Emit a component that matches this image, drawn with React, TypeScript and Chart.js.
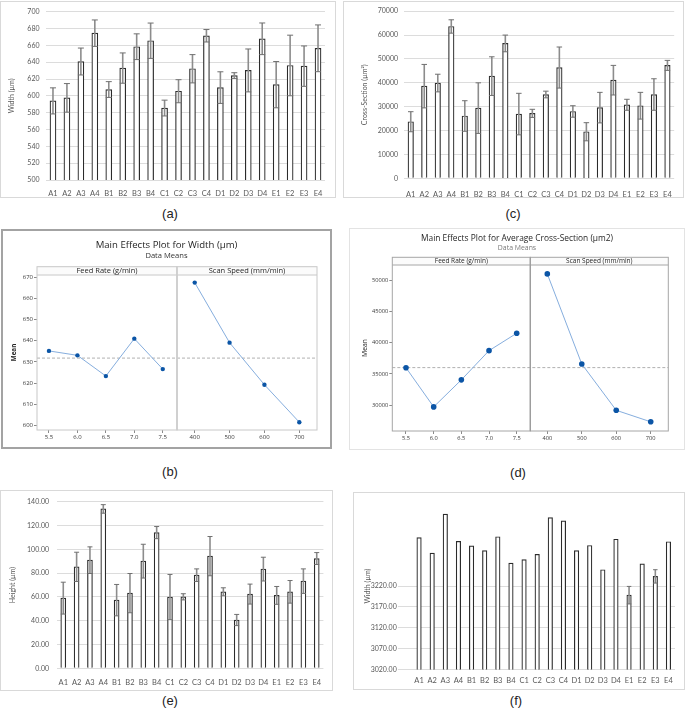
import React, { useEffect, useRef } from 'react';
import { Chart, registerables } from 'chart.js';

Chart.register(...registerables);

// ---------- data ----------
const categories = ['A1', 'A2', 'A3', 'A4', 'B1', 'B2', 'B3', 'B4', 'C1', 'C2', 'C3', 'C4', 'D1', 'D2', 'D3', 'D4', 'E1', 'E2', 'E3', 'E4'];

// (a) bead width (µm)
const widthMean = [594, 597.6, 640.8, 674.5, 607.5, 633, 658.4, 665.5, 585.5, 605.5, 632.2, 671.4, 609.8, 624, 630.2, 667.8, 613.3, 636.1, 635.3, 656.5];
const widthErr = [15.5, 17, 16, 15.7, 9.4, 18, 15.3, 21, 9.4, 13.7, 16.8, 7.4, 18.8, 3.5, 25.5, 18.8, 27.5, 36, 24, 27.8];

// (c) cross-section (µm²)
const crossMean = [23700, 38600, 39900, 63600, 26100, 29400, 42800, 56500, 26900, 27200, 35100, 46400, 28000, 19500, 29600, 41100, 30800, 30400, 35100, 47300];
const crossErr = [4200, 9100, 3700, 2800, 6400, 10600, 8100, 3500, 8700, 1700, 1400, 8600, 2400, 3800, 6400, 6200, 2300, 5600, 6600, 2100];

// (e) height (µm)
const heightMean = [59.0, 85.3, 90.9, 134.0, 57.3, 63.2, 90.1, 114.1, 59.9, 60.1, 78.3, 94.3, 64.3, 40.6, 62.4, 83.4, 61.3, 64.3, 73.3, 92.3];
const heightErr = [13.4, 12.3, 11.2, 3.6, 13.2, 16.5, 14.2, 5.1, 19.0, 2.6, 5.3, 16.5, 3.4, 4.7, 8.4, 10.0, 7.5, 9.5, 10.3, 5.0];

// (f) width (µm)
const trackWidthMean = [3336, 3299, 3392, 3327, 3316, 3305, 3338, 3275, 3283, 3296, 3384, 3376, 3305, 3317, 3259, 3332, 3198, 3273, 3243, 3326];
const trackWidthErr = [0, 0, 0, 0, 0, 0, 0, 0, 0, 0, 0, 0, 0, 0, 0, 0, 21, 0, 16, 0];

// main effects
const feedRates = [5.5, 6.0, 6.5, 7.0, 7.5];
const scanSpeeds = [400, 500, 600, 700];
const widthByFeed = [635.2, 633.1, 623.3, 641.0, 626.6];
const widthBySpeed = [667.5, 639.1, 619.2, 601.5];
const widthGrandMean = 631.8;
const widthMeanTicks = [600, 610, 620, 630, 640, 650, 660, 670];
const crossByFeed = [36000, 29700, 34050, 38750, 41550];
const crossBySpeed = [51100, 36600, 29150, 27300];
const crossGrandMean = 36020;
const crossMeanTicks = [30000, 35000, 40000, 45000, 50000];

// ---------- styling helpers ----------
const EXCEL_FONT = 'Lato, "Liberation Sans", sans-serif';
const MINI_FONT = '"Open Sans", "Noto Sans", sans-serif';

type Box = { left: number; top: number; width: number; height: number };

const frameBg = (color: string, lw = 1) => ({
  id: 'frameBg',
  beforeDraw(chart: any) {
    const { ctx, width, height } = chart;
    ctx.save();
    ctx.fillStyle = '#ffffff';
    ctx.fillRect(0, 0, width, height);
    ctx.strokeStyle = color;
    ctx.lineWidth = lw;
    ctx.strokeRect(lw / 2, lw / 2, width - lw, height - lw);
    ctx.restore();
  },
});

const errorBars = (errors: number[]) => ({
  id: 'errorBars',
  afterDatasetsDraw(chart: any) {
    const meta = chart.getDatasetMeta(0);
    const values = chart.data.datasets[0].data as number[];
    const y = chart.scales.y;
    const ctx = chart.ctx;
    ctx.save();
    meta.data.forEach((bar: any, i: number) => {
      const e = errors[i];
      if (!e) return;
      const v = values[i];
      const x = bar.x;
      const hi = y.getPixelForValue(v + e);
      const lo = y.getPixelForValue(v - e);
      const half = bar.width / 2;
      ctx.strokeStyle = '#8c8c8c';
      ctx.lineWidth = 1.6;
      ctx.beginPath();
      ctx.moveTo(x, hi);
      ctx.lineTo(x, lo);
      ctx.stroke();
      ctx.lineWidth = 1;
      ctx.strokeStyle = '#707070';
      ctx.beginPath();
      ctx.moveTo(x - half, hi);
      ctx.lineTo(x + half, hi);
      ctx.moveTo(x - half, lo);
      ctx.lineTo(x + half, lo);
      ctx.stroke();
    });
    ctx.restore();
  },
});

type BarSpec = {
  values: number[];
  errors: number[];
  yTitle: string;
  min: number;
  max: number;
  step: number;
  decimals: number;
  labelMax?: number;
  barThickness: number;
  padTop: number;
  padRight: number;
  yWidth: number;
  xHeight: number;
  yTitlePad: number;
  yTickPad: number;
  yTickLen: number;
  xTickPad: number;
};

function barConfig(s: BarSpec): any {
  const limit = s.labelMax ?? Infinity;
  return {
    type: 'bar',
    data: {
      labels: categories,
      datasets: [
        {
          data: s.values,
          backgroundColor: '#ffffff',
          borderColor: '#2b2b2b',
          borderWidth: 1.2,
          barThickness: s.barThickness,
        },
      ],
    },
    options: {
      responsive: false,
      animation: false,
      devicePixelRatio: 1,
      layout: { padding: { top: s.padTop, right: s.padRight, left: 0, bottom: 0 } },
      plugins: { legend: { display: false }, tooltip: { enabled: false } },
      scales: {
        x: {
          grid: { display: false, drawTicks: false },
          border: { display: false },
          ticks: {
            color: '#595959',
            font: { family: EXCEL_FONT, size: 7.5 },
            padding: s.xTickPad,
            maxRotation: 0,
            autoSkip: false,
          },
          afterFit: (sc: any) => {
            sc.height = s.xHeight;
          },
        },
        y: {
          min: s.min,
          max: s.max,
          border: { display: false },
          grid: {
            drawTicks: s.yTickLen > 0,
            tickLength: s.yTickLen,
            lineWidth: 1,
            color: (c: any) => (c.tick && c.tick.value > limit ? 'rgba(0,0,0,0)' : '#dcdcdc'),
          },
          ticks: {
            stepSize: s.step,
            padding: s.yTickPad,
            color: '#595959',
            font: { family: EXCEL_FONT, size: 7 },
            callback: (v: any) => (Number(v) > limit ? '' : Number(v).toFixed(s.decimals)),
          },
          title: {
            display: true,
            text: s.yTitle,
            color: '#595959',
            font: { family: EXCEL_FONT, size: 7 },
            padding: { top: s.yTitlePad, bottom: 0 },
          },
          afterFit: (sc: any) => {
            sc.width = s.yWidth;
          },
        },
      },
    },
    plugins: [frameBg('#d9d9d9'), errorBars(s.errors)],
  };
}

type MainSpec = {
  title: string;
  titleSize: number;
  titleY: number;
  subSize: number;
  subY: number;
  subColor: string;
  feedValues: number[];
  speedValues: number[];
  grandMean: number;
  yTicks: number[];
  yMin: number;
  yMax: number;
  feedMin: number;
  feedMax: number;
  speedMin: number;
  speedMax: number;
  padTop: number;
  padRight: number;
  yWidth: number;
  xHeight: number;
  yTitlePad: number;
  yTitleSize: number;
  yTitleBold: boolean;
  xTickPad: number;
  tickSize: number;
  headerH: number;
  headerSize: number;
  outerColor: string;
  outerWidth: number;
  panelColor: string;
  dividerColor: string;
  dividerWidth: number;
  pointRadius: number;
};

const mainEffectsPlugin = (spec: MainSpec) => ({
  id: 'mainEffects',
  beforeDraw(chart: any) {
    const { ctx, width, height } = chart;
    ctx.save();
    ctx.fillStyle = '#ffffff';
    ctx.fillRect(0, 0, width, height);
    const ow = spec.outerWidth;
    ctx.strokeStyle = spec.outerColor;
    ctx.lineWidth = ow;
    ctx.strokeRect(ow / 2, ow / 2, width - ow, height - ow);
    ctx.textAlign = 'center';
    ctx.textBaseline = 'middle';
    ctx.fillStyle = '#262626';
    ctx.font = `${spec.titleSize}px ${MINI_FONT}`;
    ctx.fillText(spec.title, width / 2, spec.titleY);
    ctx.fillStyle = spec.subColor;
    ctx.font = `${spec.subSize}px ${MINI_FONT}`;
    ctx.fillText('Data Means', width / 2, spec.subY);
    ctx.restore();
  },
  beforeDatasetsDraw(chart: any) {
    const { ctx, chartArea } = chart;
    const y = chart.scales.y.getPixelForValue(spec.grandMean);
    ctx.save();
    ctx.setLineDash([3, 2]);
    ctx.strokeStyle = '#a8a8a8';
    ctx.lineWidth = 0.9;
    ctx.beginPath();
    ctx.moveTo(chartArea.left, y);
    ctx.lineTo(chartArea.right, y);
    ctx.stroke();
    ctx.restore();
  },
  afterDatasetsDraw(chart: any) {
    const { ctx, chartArea } = chart;
    const panels = [
      { scale: chart.scales.xf, label: 'Feed Rate (g/min)' },
      { scale: chart.scales.xs, label: 'Scan Speed (mm/min)' },
    ];
    const hTop = chartArea.top - spec.headerH;
    ctx.save();
    for (const p of panels) {
      const l = p.scale.left;
      const r = p.scale.right;
      ctx.fillStyle = '#fbfbfb';
      ctx.fillRect(l, hTop, r - l, spec.headerH);
      ctx.strokeStyle = spec.panelColor;
      ctx.lineWidth = 1;
      ctx.strokeRect(l, hTop, r - l, chartArea.bottom - hTop);
      ctx.beginPath();
      ctx.moveTo(l, chartArea.top);
      ctx.lineTo(r, chartArea.top);
      ctx.stroke();
      ctx.fillStyle = '#262626';
      ctx.font = `${spec.headerSize}px ${MINI_FONT}`;
      ctx.textAlign = 'center';
      ctx.textBaseline = 'middle';
      ctx.fillText(p.label, (l + r) / 2, hTop + spec.headerH / 2 + 0.3);
    }
    const dx = chart.scales.xf.right;
    ctx.strokeStyle = spec.dividerColor;
    ctx.lineWidth = spec.dividerWidth;
    ctx.beginPath();
    ctx.moveTo(dx, hTop);
    ctx.lineTo(dx, chartArea.bottom);
    ctx.stroke();
    ctx.restore();
  },
});

function mainEffectsConfig(s: MainSpec): any {
  const lineStyle = {
    borderColor: '#86aede',
    borderWidth: 1,
    pointBackgroundColor: '#0b55a6',
    pointBorderColor: '#0b55a6',
    pointRadius: s.pointRadius,
    pointBorderWidth: 0,
    tension: 0,
    fill: false,
  };
  const tickFont = { family: MINI_FONT, size: s.tickSize };
  const gridOpts = { drawOnChartArea: false, drawTicks: true, tickLength: 3, color: '#8a8a8a' };
  return {
    type: 'line',
    data: {
      datasets: [
        { ...lineStyle, xAxisID: 'xf', yAxisID: 'y', data: feedRates.map((x, i) => ({ x, y: s.feedValues[i] })) },
        { ...lineStyle, xAxisID: 'xs', yAxisID: 'y', data: scanSpeeds.map((x, i) => ({ x, y: s.speedValues[i] })) },
      ],
    },
    options: {
      responsive: false,
      animation: false,
      devicePixelRatio: 1,
      layout: { padding: { top: s.padTop, right: s.padRight, left: 0, bottom: 0 } },
      plugins: { legend: { display: false }, tooltip: { enabled: false }, title: { display: false } },
      scales: {
        xf: {
          type: 'linear',
          position: 'bottom',
          stack: 'panels',
          stackWeight: 1,
          min: s.feedMin,
          max: s.feedMax,
          grid: gridOpts,
          border: { display: false },
          afterBuildTicks: (sc: any) => {
            sc.ticks = feedRates.map((v) => ({ value: v }));
          },
          ticks: {
            padding: s.xTickPad,
            color: '#3a3a3a',
            font: tickFont,
            maxRotation: 0,
            autoSkip: false,
            callback: (v: any) => Number(v).toFixed(1),
          },
          afterFit: (sc: any) => {
            sc.height = s.xHeight;
          },
        },
        xs: {
          type: 'linear',
          position: 'bottom',
          stack: 'panels',
          stackWeight: 1,
          min: s.speedMin,
          max: s.speedMax,
          grid: gridOpts,
          border: { display: false },
          afterBuildTicks: (sc: any) => {
            sc.ticks = scanSpeeds.map((v) => ({ value: v }));
          },
          ticks: {
            padding: s.xTickPad,
            color: '#3a3a3a',
            font: tickFont,
            maxRotation: 0,
            autoSkip: false,
            callback: (v: any) => String(Math.round(Number(v))),
          },
          afterFit: (sc: any) => {
            sc.height = s.xHeight;
          },
        },
        y: {
          type: 'linear',
          position: 'left',
          min: s.yMin,
          max: s.yMax,
          grid: gridOpts,
          border: { display: false },
          afterBuildTicks: (sc: any) => {
            sc.ticks = s.yTicks.map((v) => ({ value: v }));
          },
          ticks: {
            padding: 1,
            color: '#3a3a3a',
            font: tickFont,
            autoSkip: false,
            callback: (v: any) => String(Math.round(Number(v))),
          },
          title: {
            display: true,
            text: 'Mean',
            color: '#262626',
            font: { family: MINI_FONT, size: s.yTitleSize, weight: s.yTitleBold ? 'bold' : 'normal' },
            padding: { top: s.yTitlePad, bottom: 0 },
          },
          afterFit: (sc: any) => {
            sc.width = s.yWidth;
          },
        },
      },
    },
    plugins: [mainEffectsPlugin(s)],
  };
}

// ---------- components ----------
function ChartCanvas({ box, build }: { box: Box; build: () => any }) {
  const ref = useRef<HTMLCanvasElement>(null);
  useEffect(() => {
    const chart = new Chart(ref.current as HTMLCanvasElement, build());
    return () => chart.destroy();
  }, []);
  return (
    <canvas
      ref={ref}
      width={box.width}
      height={box.height}
      style={{ position: 'absolute', left: box.left, top: box.top, width: box.width, height: box.height }}
    />
  );
}

function Caption({ text, x, y }: { text: string; x: number; y: number }) {
  return (
    <div
      style={{
        position: 'absolute',
        left: x,
        top: y,
        transform: 'translate(-50%, -50%)',
        fontFamily: '"Liberation Sans", Arial, sans-serif',
        fontSize: 13,
        color: '#222',
        whiteSpace: 'nowrap',
      }}
    >
      {text}
    </div>
  );
}

export default function App() {
  return (
    <div style={{ position: 'absolute', left: 0, top: 0, width: 685, height: 711, background: '#ffffff', overflow: 'hidden' }}>
      <ChartCanvas
        box={{ left: 0, top: 1, width: 336, height: 197 }}
        build={() =>
          barConfig({
            values: widthMean,
            errors: widthErr,
            yTitle: 'Width (µm)',
            min: 500,
            max: 700,
            step: 20,
            decimals: 0,
            barThickness: 6,
            padTop: 9,
            padRight: 11,
            yWidth: 46,
            xHeight: 18,
            yTitlePad: 7.8,
            yTickPad: 6.5,
            yTickLen: 0,
            xTickPad: 8.7,
          })
        }
      />
      <ChartCanvas
        box={{ left: 343, top: 1, width: 341, height: 197 }}
        build={() =>
          barConfig({
            values: crossMean,
            errors: crossErr,
            yTitle: 'Cross-Section (µm²)',
            min: 0,
            max: 70000,
            step: 10000,
            decimals: 0,
            barThickness: 5.5,
            padTop: 10,
            padRight: 9,
            yWidth: 61,
            xHeight: 19.7,
            yTitlePad: 17.8,
            yTickPad: 6,
            yTickLen: 0,
            xTickPad: 12,
          })
        }
      />
      <ChartCanvas
        box={{ left: 1, top: 229, width: 331, height: 220 }}
        build={() =>
          mainEffectsConfig({
            title: 'Main Effects Plot for Width (µm)',
            titleSize: 9.6,
            titleY: 16,
            subSize: 7.6,
            subY: 26.7,
            subColor: '#333333',
            feedValues: widthByFeed,
            speedValues: widthBySpeed,
            grandMean: widthGrandMean,
            yTicks: widthMeanTicks,
            yMin: 597.8,
            yMax: 671.1,
            feedMin: 5.29,
            feedMax: 7.75,
            speedMin: 349.2,
            speedMax: 750.8,
            padTop: 46,
            padRight: 15,
            yWidth: 36,
            xHeight: 19,
            yTitlePad: 9.4,
            yTitleSize: 6.3,
            yTitleBold: true,
            xTickPad: 1,
            tickSize: 6,
            headerH: 8.3,
            headerSize: 7.5,
            outerColor: '#a3a3a3',
            outerWidth: 2,
            panelColor: '#c8c8c8',
            dividerColor: '#cfcfcf',
            dividerWidth: 1.6,
            pointRadius: 2.2,
          })
        }
      />
      <ChartCanvas
        box={{ left: 349, top: 228, width: 336, height: 222 }}
        build={() =>
          mainEffectsConfig({
            title: 'Main Effects Plot for Average Cross-Section (µm2)',
            titleSize: 8.4,
            titleY: 11,
            subSize: 6.9,
            subY: 20.5,
            subColor: '#7a7a7a',
            feedValues: crossByFeed,
            speedValues: crossBySpeed,
            grandMean: crossGrandMean,
            yTicks: crossMeanTicks,
            yMin: 25820,
            yMax: 52530,
            feedMin: 5.2525,
            feedMax: 7.7457,
            speedMin: 350.7,
            speedMax: 751,
            padTop: 37,
            padRight: 16.7,
            yWidth: 43.3,
            xHeight: 19,
            yTitlePad: 12.1,
            yTitleSize: 6.8,
            yTitleBold: false,
            xTickPad: 0.5,
            tickSize: 5.7,
            headerH: 7.7,
            headerSize: 6.5,
            outerColor: '#e3e3e3',
            outerWidth: 1,
            panelColor: '#a6a6a6',
            dividerColor: '#9a9a9a',
            dividerWidth: 1,
            pointRadius: 2.8,
          })
        }
      />
      <ChartCanvas
        box={{ left: 0, top: 490, width: 333, height: 201 }}
        build={() =>
          barConfig({
            values: heightMean,
            errors: heightErr,
            yTitle: 'Height (µm)',
            min: 0,
            max: 140,
            step: 20,
            decimals: 2,
            barThickness: 5,
            padTop: 11,
            padRight: 9.6,
            yWidth: 56.6,
            xHeight: 22.7,
            yTitlePad: 8.8,
            yTickPad: 7.6,
            yTickLen: 0,
            xTickPad: 9.5,
          })
        }
      />
      <ChartCanvas
        box={{ left: 353, top: 492, width: 332, height: 198 }}
        build={() =>
          barConfig({
            values: trackWidthMean,
            errors: trackWidthErr,
            yTitle: 'Width (µm)',
            min: 3020,
            max: 3420,
            step: 50,
            decimals: 2,
            labelMax: 3220,
            barThickness: 4.5,
            padTop: 10.5,
            padRight: 10,
            yWidth: 59.5,
            xHeight: 20.5,
            yTitlePad: 10.8,
            yTickPad: 1.3,
            yTickLen: 14.5,
            xTickPad: 6.5,
          })
        }
      />
      <Caption text="(a)" x={170} y={213} />
      <Caption text="(c)" x={513} y={213} />
      <Caption text="(b)" x={170} y={471} />
      <Caption text="(d)" x={518} y={472} />
      <Caption text="(e)" x={170} y={700} />
      <Caption text="(f)" x={516} y={700} />
    </div>
  );
}
